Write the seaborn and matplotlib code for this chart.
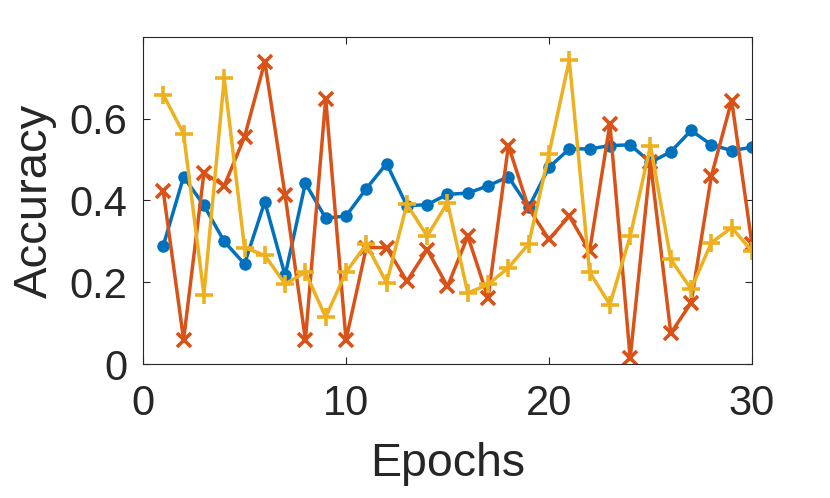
import numpy as np
import pandas as pd
import matplotlib
matplotlib.use("Agg")
import matplotlib.pyplot as plt
import seaborn as sns

# Data
epochs = list(range(1, 31))
acc_blue = [0.29, 0.458, 0.388, 0.30, 0.245, 0.397, 0.217, 0.442, 0.357, 0.362,
            0.429, 0.49, 0.387, 0.39, 0.415, 0.418, 0.436, 0.458, 0.383, 0.481,
            0.526, 0.526, 0.534, 0.536, 0.493, 0.519, 0.571, 0.536, 0.522, 0.53]
acc_orange = [0.422, 0.06, 0.467, 0.436, 0.555, 0.739, 0.413, 0.06, 0.649, 0.06,
              0.285, 0.285, 0.203, 0.28, 0.19, 0.313, 0.162, 0.534, 0.381, 0.305,
              0.362, 0.276, 0.587, 0.015, 0.493, 0.076, 0.15, 0.46, 0.644, 0.293]
acc_yellow = [0.658, 0.563, 0.17, 0.698, 0.285, 0.266, 0.196, 0.225, 0.115, 0.225,
              0.293, 0.199, 0.391, 0.313, 0.395, 0.174, 0.195, 0.236, 0.294, 0.514,
              0.743, 0.225, 0.146, 0.313, 0.534, 0.256, 0.184, 0.297, 0.334, 0.276]

x_ticks = [0, 10, 20, 30]
y_ticks = [0, 0.2, 0.4, 0.6]
y_tick_labels = ['0', '0.2', '0.4', '0.6']

sns.set_style("ticks")
plt.rcParams['font.family'] = ['Liberation Sans', 'DejaVu Sans']
plt.rcParams['xtick.direction'] = 'in'
plt.rcParams['ytick.direction'] = 'in'

fig = plt.figure(figsize=(8.3, 4.98), dpi=100)
ax = fig.add_axes([0.1723, 0.2685, 0.7337, 0.6578])

# =========================
# THREE ACCURACY CURVES
# =========================
sns.lineplot(x=epochs, y=acc_blue, ax=ax, color='#0072BD', linewidth=2.5,
             marker='o', markersize=9, markeredgewidth=0, markeredgecolor='#0072BD')
sns.lineplot(x=epochs, y=acc_orange, ax=ax, color='#D95319', linewidth=2.5,
             marker='x', markersize=9.5, markeredgewidth=2.6, markeredgecolor='#D95319')
sns.lineplot(x=epochs, y=acc_yellow, ax=ax, color='#EDB120', linewidth=2.5,
             marker='+', markersize=13, markeredgewidth=2.6, markeredgecolor='#EDB120')

ax.set_xlim(0, 30)
ax.set_ylim(0, 0.8)
ax.set_xticks(x_ticks)
ax.set_yticks(y_ticks)
ax.set_yticklabels(y_tick_labels)
ax.tick_params(axis='both', labelsize=30, colors='#262626', length=5, width=0.8,
               top=True, right=True)
ax.tick_params(axis='x', pad=14)
ax.tick_params(axis='y', pad=11)
for s in ax.spines.values():
    s.set_visible(True)
    s.set_color('#262626')
    s.set_linewidth(0.8)

ax.set_xlabel('Epochs', fontsize=33.5, color='#262626', labelpad=13)
ax.set_ylabel('Accuracy', fontsize=34, color='#262626', labelpad=9)

fig.savefig('out.png', dpi=100)
